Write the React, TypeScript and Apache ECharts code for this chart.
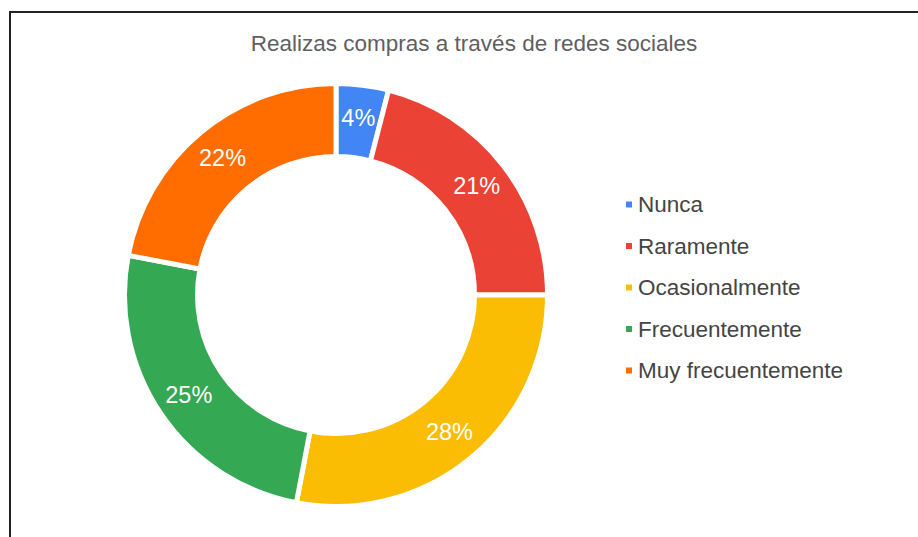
import React, { useEffect, useRef } from "react";
import * as echarts from "echarts";

const TITLE = "Realizas compras a través de redes sociales";
const CATEGORIES = ["Nunca", "Raramente", "Ocasionalmente", "Frecuentemente", "Muy frecuentemente"];
const VALUES = [4, 21, 28, 25, 22];
const COLORS = ["#4285F4", "#EA4335", "#FBBC04", "#34A853", "#FF6D01"];

export default function App() {
  const ref = useRef<HTMLDivElement>(null);
  useEffect(() => {
    if (!ref.current) return;
    const chart = echarts.init(ref.current, undefined, { renderer: "svg" });
    const font = "Liberation Sans, Arial, sans-serif";
    chart.setOption({
      animation: false,
      backgroundColor: "transparent",
      title: {
        text: TITLE,
        left: 469,
        textAlign: "center",
        top: 27,
        textStyle: { fontFamily: font, fontSize: 22.5, fontWeight: "normal", color: "#5f5f5f" },
      },
      legend: {
        orient: "vertical",
        left: 619,
        top: 188,
        icon: "rect",
        itemWidth: 8,
        itemHeight: 8,
        itemGap: 18.5,
        data: CATEGORIES,
        textStyle: { fontFamily: font, fontSize: 22.5, color: "#444444", padding: [0, 0, 0, 0] },
      },
      color: COLORS,
      series: [
        {
          type: "pie",
          center: [336, 295],
          radius: [138.5, 211.5],
          startAngle: 90,
          clockwise: true,
          avoidLabelOverlap: false,
          itemStyle: { borderColor: "#ffffff", borderWidth: 5 },
          label: {
            show: true,
            position: "inside",
            formatter: (p: any) => p.value + "%",
            color: "#ffffff",
            fontFamily: font,
            fontSize: 23.5,
          },
          labelLine: { show: false },
          emphasis: { disabled: true },
          data: CATEGORIES.map((name, i) => ({ name, value: VALUES[i] })),
        },
      ],
    });
    return () => chart.dispose();
  }, []);
  return (
    <div style={{ position: "fixed", left: 0, top: 0, width: 918, height: 537, background: "#fff" }}>
      <div style={{ position: "absolute", left: 9, top: 11, right: 0, height: 2, background: "#222" }} />
      <div style={{ position: "absolute", left: 9, top: 11, bottom: 0, width: 2, background: "#222" }} />
      <div ref={ref} style={{ position: "absolute", left: 0, top: 0, width: 918, height: 537 }} />
    </div>
  );
}
